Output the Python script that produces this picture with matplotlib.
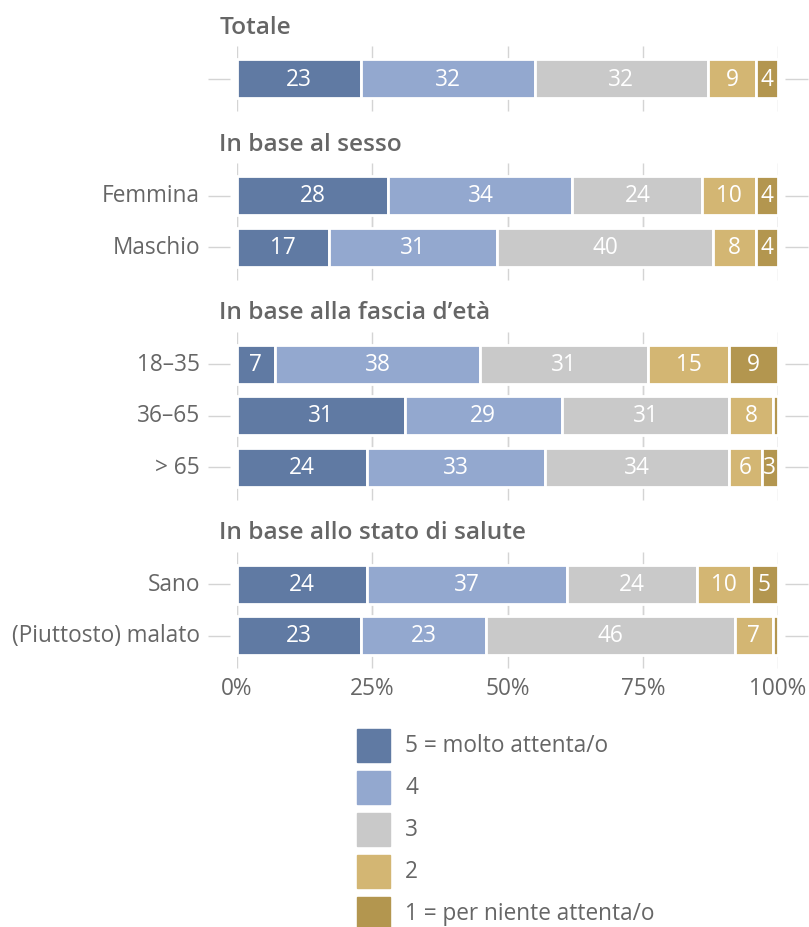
import matplotlib
matplotlib.use('Agg')
import matplotlib.pyplot as plt
from matplotlib.patches import Rectangle
import numpy as np

plt.rcParams['font.family'] = ['Open Sans', 'DejaVu Sans']

# ── Data ──────────────────────────────────────────────────────────────
headers = ["Totale", "In base al sesso", "In base alla fascia d’età",
           "In base allo stato di salute"]
group_rows = [[""],
              ["Femmina", "Maschio"],
              ["18–35", "36–65", "> 65"],
              ["Sano", "(Piuttosto) malato"]]
levels = ["5 = molto attenta/o", "4", "3", "2", "1 = per niente attenta/o"]
values = {
    "":                   [23, 32, 32, 9, 4],
    "Femmina":            [28, 34, 24, 10, 4],
    "Maschio":            [17, 31, 40, 8, 4],
    "18–35":              [7, 38, 31, 15, 9],
    "36–65":              [31, 29, 31, 8, 1],
    "> 65":               [24, 33, 34, 6, 3],
    "Sano":               [24, 37, 24, 10, 5],
    "(Piuttosto) malato": [23, 23, 46, 7, 1],
}
colors = ["#607aa3", "#93a8cf", "#c9c9c9", "#d3b673", "#b3964f"]
xticks = [0, 25, 50, 75, 100]

TXT = "#666666"
GRID = "#d4d4d4"
FS = 16.3

# ── Layout (pixel units, y from top) ──────────────────────────────────
W, H = 809, 928
slot, gap, bar_h = 51.5, 14, 39
fig = plt.figure(figsize=(W / 100, H / 100), dpi=100)
ax = fig.add_axes([237 / W, 0, 541 / W, 1])
ax.set_xlim(0, 100)
ax.set_ylim(H, 0)
ax.axis('off')

y = 28
for gi, (hdr, rows) in enumerate(zip(headers, group_rows)):
    if gi > 0:
        y += slot + gap
    ax.text(-3.3, y, hdr, ha='left', va='center', fontsize=FS + 1.3,
            fontweight='semibold', color=TXT, clip_on=False)
    for r in rows:
        y += slot
        vals = values[r]
        # grid segments behind bar
        ax.vlines(xticks, y - bar_h / 2 - 13, y + bar_h / 2 + 13,
                  color=GRID, lw=1, zorder=0)
        ax.hlines(y, -5.4, -1.3, color=GRID, lw=1, clip_on=False)
        ax.hlines(y, 101.3, 105.5, color=GRID, lw=1, clip_on=False)
        left = 0
        for v, c in zip(vals, colors):
            ax.barh(y, v, left=left, height=bar_h, color=c,
                    edgecolor='white', linewidth=2, zorder=2)
            if v >= 3:
                ax.text(left + v / 2, y, str(v), ha='center', va='center',
                        color='white', fontsize=FS, zorder=3)
            left += v
        if r:
            ax.text(-6.8, y, r, ha='right', va='center', fontsize=FS,
                    color=TXT, clip_on=False)

# x tick labels
y_tick = y + bar_h / 2 + 33
for t in xticks:
    ax.text(t, y_tick, f"{t}%", ha='center', va='center', fontsize=FS,
            color=TXT, clip_on=False)

# ── Legend ────────────────────────────────────────────────────────────
lx, ly0, lsz, lstep = 357, 730, 33, 42
for i, (lab, c) in enumerate(zip(levels, colors)):
    top = ly0 + i * lstep
    fig.add_artist(Rectangle((lx / W, 1 - (top + lsz) / H), lsz / W, lsz / H,
                             transform=fig.transFigure, color=c))
    fig.text(405 / W, 1 - (top + lsz / 2) / H, lab, ha='left', va='center',
             fontsize=FS, color=TXT)

fig.savefig("out.png", dpi=100)
